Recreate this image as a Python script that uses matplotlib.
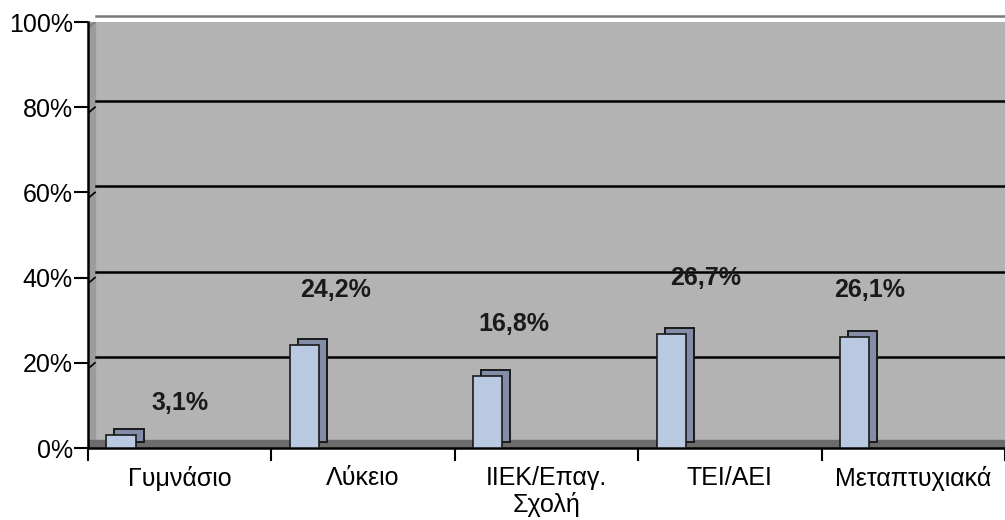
import numpy as np
import matplotlib.pyplot as plt
from matplotlib.transforms import ScaledTranslation

categories = ["Γυμνάσιο", "Λύκειο", "ΙΙΕΚ/Επαγ.\nΣχολή", "ΤΕΙ/ΑΕΙ", "Μεταπτυχιακά"]
values = [3.1, 24.2, 16.8, 26.7, 26.1]
value_labels = ["3,1%", "24,2%", "16,8%", "26,7%", "26,1%"]
yticks = [0, 20, 40, 60, 80, 100]

plt.rcParams["font.family"] = ["Liberation Sans", "DejaVu Sans"]

fig = plt.figure(figsize=(10.05, 5.2), dpi=100)
ax = fig.add_axes([88 / 1005, 1 - 448 / 520, 917 / 1005, 426 / 520])
ax.set_facecolor("#b3b3b3")

x = np.arange(len(categories))
ax.set_xlim(-0.5, len(categories) - 0.5)
ax.set_ylim(0, 100)

# 3D depth offset
depth = ScaledTranslation(8 / 100, 6 / 100, fig.dpi_scale_trans)

# side wall and floor
ax.axvspan(-0.5, -0.5 + 7 / 183.4, color="#9c9c9c", zorder=0)
ax.axhspan(0, 1.8, color="#6c6c6c", zorder=0.5)

# gridlines on the back wall
for t in yticks[1:]:
    col = "#7a7a7a" if t == 100 else "black"
    ax.plot([0, 1], [t, t], color=col, linewidth=1.8, zorder=1,
            transform=ax.get_yaxis_transform() + depth, clip_on=False)
    ax.plot([-0.5, -0.5 + 7 / 183.4], [t - 1.4, t], color=col,
            linewidth=1.2, zorder=1)

# bars: shaded side/top, then front face
bx = x - 0.32
ax.bar(bx, values, width=0.16, color="#838da8", edgecolor="#1a1a1a",
       linewidth=1.4, zorder=2, transform=ax.transData + depth)
ax.bar(bx, values, width=0.16, color="#b9c9e2", edgecolor="#1a1a1a",
       linewidth=1.2, zorder=3)

# label placement (style only)
label_dx = [0.0, -0.15, -0.18, -0.13, -0.24]
label_dy = [7.5, 12.8, 12.2, 13.3, 11.0]
for xi, v, lab, dx, dy in zip(x, values, value_labels, label_dx, label_dy):
    ax.text(xi + dx, v + dy, lab, ha="center", va="center",
            fontsize=18, fontweight="bold", color="#1a1a1a", zorder=4)

ax.set_yticks(yticks)
ax.set_yticklabels([f"{t}%" for t in yticks], fontsize=18)
ax.set_xticks(x)
ax.set_xticklabels(categories, fontsize=18, linespacing=1.1)
ax.set_xticks(np.arange(-0.5, len(categories)), minor=True)
ax.tick_params(axis="x", which="major", length=0, pad=13)
ax.tick_params(axis="x", which="minor", length=9, width=1.5, direction="out")
ax.tick_params(axis="y", length=10, width=1.5, direction="out", pad=1)

for s in ["top", "right"]:
    ax.spines[s].set_visible(False)
for s in ["left", "bottom"]:
    ax.spines[s].set_linewidth(1.8)

fig.savefig("out.png", dpi=100)
